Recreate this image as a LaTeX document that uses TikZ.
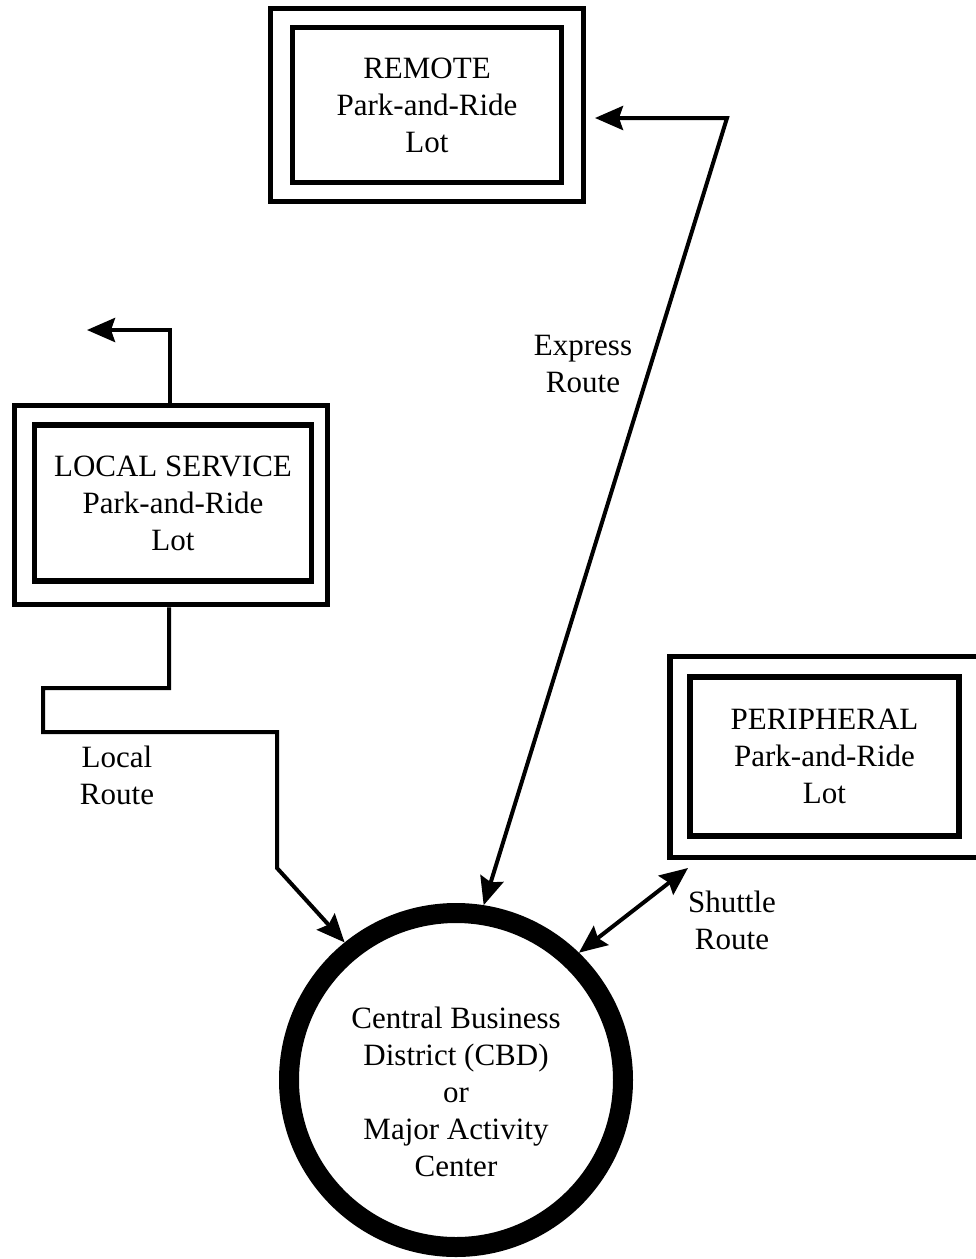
\documentclass[tikz,border=0pt]{standalone}
\usepackage{fontspec}
\setmainfont{Liberation Serif}
\usetikzlibrary{arrows.meta}
\tikzset{pr/.tip={Stealth[length=28pt,width=24pt,inset=4pt]}}
\begin{document}
\begin{tikzpicture}[x=1pt,y=-1pt,
  lbl/.style={font=\fontsize{31}{37}\selectfont, align=center, inner sep=0pt},
  lotout/.style={draw, rectangle, line width=5.5pt, inner sep=0pt},
  lotin/.style={lotout, lbl},
  route/.style={line width=4pt, -pr},
  twoway/.style={line width=4pt, pr-pr}]
\useasboundingbox (0,0) rectangle (976,1259);

% park-and-ride lots: double-framed boxes
\node[lotout, minimum width=313pt, minimum height=193pt] (remout) at (427,105) {};
\node[lotin, minimum width=269pt, minimum height=155pt] (remote) at (427,105)
  {REMOTE\\Park-and-Ride\\Lot};

\node[lotout, minimum width=313pt, minimum height=199pt] (lsout) at (171,505) {};
\node[lotin, minimum width=277pt, minimum height=156pt] (local) at (173,503)
  {LOCAL SERVICE\\Park-and-Ride\\Lot};

\node[lotout, minimum width=309pt, minimum height=201pt] (perout) at (824.5,757) {};
\node[lotin, minimum width=269pt, minimum height=159pt] (peri) at (824.5,756.5)
  {PERIPHERAL\\Park-and-Ride\\Lot};

% the activity centre
\node[circle, draw, line width=20pt, minimum size=334pt, inner sep=0pt] (cbd) at (456,1080) {};
\node[lbl] (cbdtext) at (456,1092)
  {Central Business\\District (CBD)\\or\\Major Activity\\Center};

% express route
\coordinate (expcorner) at (727,118);
\coordinate (expend) at (595,118);
\draw[twoway] (cbd.81) -- (expcorner) -- (expend);
\node[lbl] (explbl) at (583,364) {Express\\Route};

% local route, continuing out of the lot
\coordinate (upend) at (87,330);
\draw[route] ([xshift=-1pt]lsout.north) |- (upend);
\coordinate (lr1) at (43,688);
\coordinate (lr2) at (43,732);
\coordinate (lr3) at (277,868);
\draw[route] ([xshift=-2pt]lsout.south) |- (lr1) -- (lr2) -| (lr3) -- (cbd.129);
\node[lbl] (loclbl) at (117,775) {Local\\Route};

% shuttle route
\coordinate (shuttleend) at (688,868);
\draw[twoway] (cbd.46) -- (shuttleend);
\node[lbl] (shulbl) at (732,920) {Shuttle\\Route};
\end{tikzpicture}
\end{document}
